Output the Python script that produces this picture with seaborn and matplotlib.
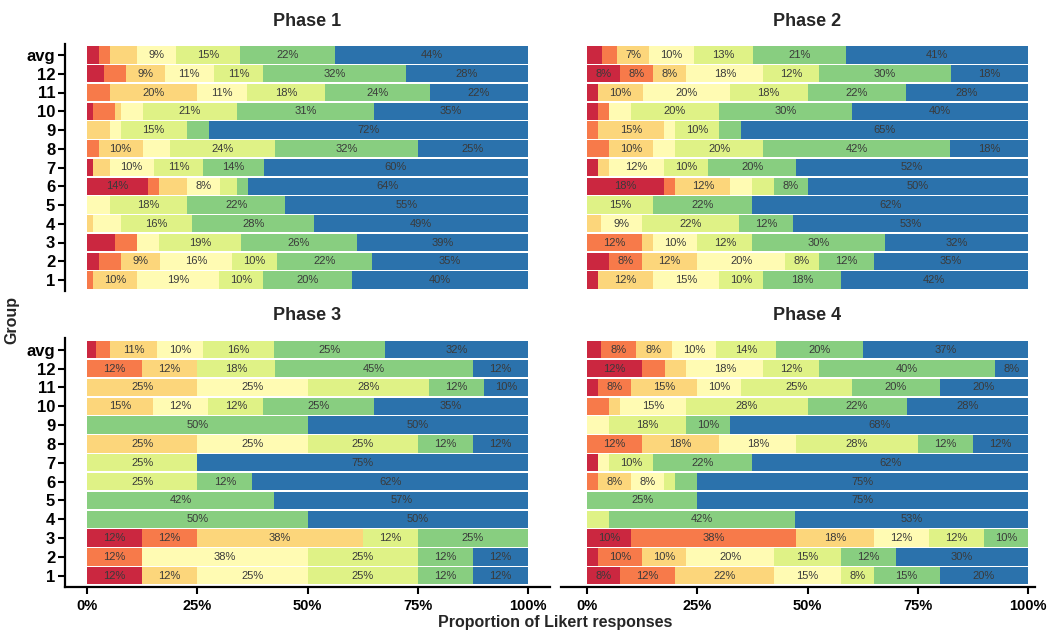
import matplotlib
matplotlib.use("Agg")
import matplotlib.pyplot as plt
import numpy as np
import pandas as pd
import seaborn as sns

# ---------------- data ----------------
groups = ['avg', '12', '11', '10', '9', '8', '7', '6', '5', '4', '3', '2', '1']
levels = ['1', '2', '3', '4', '5', '6', '7']
palette = ['#CB2740', '#F77A4A', '#FCD67B', '#FFFBB3', '#DFF286', '#88CE80', '#2B72AC']
phase_titles = ['Phase 1', 'Phase 2', 'Phase 3', 'Phase 4']
x_ticks = [0, 25, 50, 75, 100]
x_tick_labels = ['0%', '25%', '50%', '75%', '100%']

phase1 = [
    [2.6, 2.5, 6.3, 8.8, 14.6, 21.5, 43.7],
    [3.8, 5.0, 8.8, 11.2, 11.2, 32.4, 27.6],
    [0, 5.1, 19.9, 11.3, 17.6, 23.8, 22.3],
    [1.4, 5.0, 1.3, 4.9, 21.3, 31.2, 34.9],
    [0, 0, 5.1, 2.5, 15.0, 5.1, 72.3],
    [0, 2.6, 10.0, 6.3, 23.8, 32.4, 24.9],
    [1.4, 0, 3.7, 10.0, 11.3, 13.7, 59.9],
    [13.8, 2.6, 6.2, 7.5, 3.8, 2.5, 63.6],
    [0, 0, 0, 5.1, 17.6, 22.3, 55.0],
    [0, 0, 1.4, 6.2, 16.3, 27.6, 48.6],
    [6.3, 5.1, 0, 4.9, 18.7, 26.2, 38.8],
    [2.6, 5.1, 8.9, 16.3, 10.2, 21.6, 35.3],
    [0, 1.4, 10.0, 18.6, 10.0, 20.0, 40.0],
]
phase2 = [
    [3.3, 3.5, 7.3, 10.2, 13.4, 21.1, 41.2],
    [7.5, 7.5, 7.5, 17.5, 12.5, 30.0, 17.5],
    [2.5, 0, 10.1, 19.8, 17.6, 22.4, 27.6],
    [2.5, 2.4, 0, 5.0, 20.1, 30.0, 40.0],
    [0, 2.5, 15.0, 2.4, 10.1, 4.9, 65.1],
    [0, 5.0, 10.0, 5.0, 20.0, 42.4, 17.6],
    [2.5, 0, 2.4, 12.5, 10.1, 20.0, 52.5],
    [17.5, 2.5, 12.5, 5.0, 5.0, 7.5, 50.0],
    [0, 0, 0, 0, 15.0, 22.5, 62.5],
    [0, 0, 3.1, 9.4, 21.9, 12.4, 53.2],
    [0, 12.5, 2.5, 10.0, 12.5, 30.0, 32.5],
    [5.0, 7.5, 12.5, 20.0, 7.5, 12.5, 35.0],
    [2.5, 0, 12.5, 15.0, 10.0, 17.5, 42.5],
]
phase3 = [
    [2.1, 3.2, 10.6, 10.4, 16.2, 25.0, 32.5],
    [0, 12.5, 12.5, 0, 17.6, 44.9, 12.5],
    [0, 0, 25.0, 25.0, 27.5, 12.5, 10.0],
    [0, 0, 15.0, 12.5, 12.5, 25.0, 35.0],
    [0, 0, 0, 0, 0, 50.0, 50.0],
    [0, 0, 25.0, 25.0, 25.0, 12.5, 12.5],
    [0, 0, 0, 0, 25.0, 0, 75.0],
    [0, 0, 0, 0, 25.0, 12.5, 62.5],
    [0, 0, 0, 0, 0, 42.5, 57.49],
    [0, 0, 0, 0, 0, 50.0, 50.0],
    [12.5, 12.5, 37.5, 0, 12.5, 25.0, 0],
    [0, 12.5, 0, 37.5, 25.0, 12.5, 12.5],
    [12.5, 0, 12.5, 25.0, 25.0, 12.5, 12.5],
]
phase4 = [
    [3.2, 7.8, 8.2, 10.1, 13.6, 19.7, 37.4],
    [12.5, 5.1, 4.9, 17.5, 12.5, 40.0, 7.5],
    [2.5, 7.5, 15.0, 10.0, 25.0, 20.0, 20.0],
    [0, 5.0, 2.5, 15.0, 27.5, 22.5, 27.5],
    [0, 0, 0, 5.0, 17.5, 10.0, 67.5],
    [0, 12.5, 17.5, 17.5, 27.5, 12.5, 12.5],
    [2.5, 0, 0, 2.5, 10.0, 22.5, 62.5],
    [0, 2.5, 7.5, 7.5, 2.5, 5.0, 75.0],
    [0, 0, 0, 0, 0, 25.0, 75.0],
    [0, 0, 0, 0, 5.0, 42.2, 52.8],
    [10.0, 37.5, 17.5, 12.5, 12.5, 10.0, 0],
    [2.5, 10.0, 10.0, 20.0, 15.0, 12.5, 30.0],
    [7.5, 12.5, 22.5, 15.0, 7.5, 15.0, 20.0],
]
phases = [phase1, phase2, phase3, phase4]

# ---------------- style ----------------
sns.set_style("white")
plt.rcParams['font.family'] = ['Liberation Sans', 'DejaVu Sans']

W, H = 1050, 632
fig = plt.figure(figsize=(W / 100, H / 100), dpi=100)

# (left, top, width, height) in pixels
boxes = [(65, 43.75, 485, 247.5), (565, 43.75, 485, 247.5),
         (65, 338.4, 485, 248.6), (565, 338.4, 485, 248.6)]

for i, (data, title, box) in enumerate(zip(phases, phase_titles, boxes)):
    l, t, w, h = box
    ax = fig.add_axes([l / W, 1 - (t + h) / H, w / W, h / H])
    wide = pd.DataFrame(data, columns=levels)
    wide['group'] = groups
    long = wide.melt(id_vars='group', var_name='level', value_name='pct')
    long['cum'] = long.groupby('group', sort=False)['pct'].cumsum()

    for lev, col in reversed(list(zip(levels, palette))):
        sub = long[long['level'] == lev]
        sns.barplot(data=sub, x='cum', y='group', order=groups, orient='h',
                    color=col, saturation=1, width=0.92, errorbar=None,
                    linewidth=0, ax=ax)

    for row in long.itertuples():
        if row.pct >= 6.8:
            ax.text(row.cum - row.pct / 2, groups.index(row.group),
                    f"{row.pct:.0f}%", ha='center', va='center',
                    fontsize=8, color='#3a3a3a')

    ax.set_xlim(-5, 105)
    ax.set_ylim(12.6, -0.6)
    ax.set_xlabel('')
    ax.set_ylabel('')
    ax.set_title(title, fontweight='bold', fontsize=13, pad=13)
    for s in ['top', 'right']:
        ax.spines[s].set_visible(False)
    for s in ['left', 'bottom']:
        ax.spines[s].set_linewidth(1.6)
        ax.spines[s].set_color('black')

    top_row = i < 2
    left_col = i % 2 == 0
    if top_row:
        ax.spines['bottom'].set_visible(False)
        ax.tick_params(axis='x', bottom=False, labelbottom=False)
    else:
        ax.set_xticks(x_ticks)
        ax.set_xticklabels(x_tick_labels, fontweight='bold', fontsize=10.5)
        ax.tick_params(axis='x', bottom=True, length=5, width=1.5,
                       direction='out', pad=4, colors='black')
        if not left_col:
            ax.spines['bottom'].set_bounds(-6, 101.5)
    if left_col:
        ax.set_yticks(range(len(groups)))
        ax.set_yticklabels(groups, fontweight='bold', fontsize=12)
        ax.tick_params(axis='y', left=True, length=5, width=1.5,
                       direction='out', pad=2, colors='black')
    else:
        ax.spines['left'].set_visible(False)
        ax.tick_params(axis='y', left=False, labelleft=False)

fig.text(12 / W, 1 - 320 / H, 'Group', rotation=90, fontweight='bold',
         fontsize=11.5, ha='center', va='center')
fig.text(555 / W, 1 - 622 / H, 'Proportion of Likert responses',
         fontweight='bold', fontsize=11.5, ha='center', va='center')

fig.savefig('out.png', dpi=100)
